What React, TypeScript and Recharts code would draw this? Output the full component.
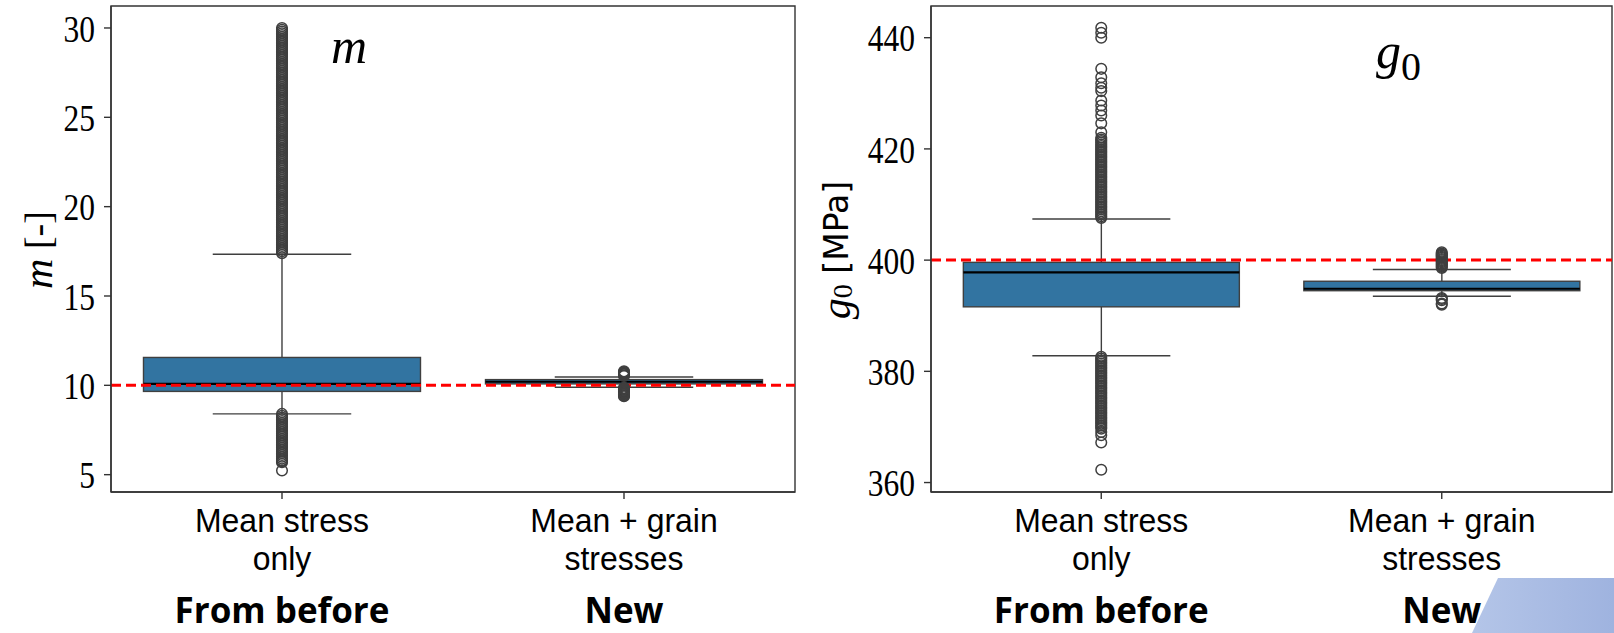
import React from 'react'
import { ComposedChart, Bar, Scatter, XAxis, YAxis, ReferenceLine, ReferenceArea } from 'recharts'

const CATEGORIES = ['Mean stress only', 'Mean + grain stresses']
const TICK_LINES: Record<string, string[]> = {
  'Mean stress only':      ['Mean stress', 'only'],
  'Mean + grain stresses': ['Mean + grain', 'stresses'],
}
const GROUP_LABELS = ['From before', 'New']

// m [-]
const M_TICKS  = [5, 10, 15, 20, 25, 30]
const M_DOMAIN = [4.03, 31.23]
const M_REF    = 10
const M_LOW    = [8.4, 9.89]
const M_Q1     = [9.66, 10.08]
const M_MEDIAN = [10.08, 10.2]
const M_Q3     = [11.56, 10.32]
const M_HIGH   = [17.34, 10.47]
const M_OUT_ONLY = [
  17.4, 17.5, 17.6, 17.7, 17.8, 17.9, 18.0, 18.1, 18.2, 18.3,
  18.4, 18.5, 18.6, 18.7, 18.8, 18.9, 19.0, 19.1, 19.2, 19.3,
  19.4, 19.5, 19.6, 19.7, 19.8, 19.9, 20.0, 20.1, 20.2, 20.3,
  20.4, 20.5, 20.6, 20.7, 20.8, 20.9, 21.0, 21.1, 21.2, 21.3,
  21.4, 21.5, 21.6, 21.7, 21.8, 21.9, 22.0, 22.1, 22.2, 22.3,
  22.4, 22.5, 22.6, 22.7, 22.8, 22.9, 23.0, 23.1, 23.2, 23.3,
  23.4, 23.5, 23.6, 23.7, 23.8, 23.9, 24.0, 24.1, 24.2, 24.3,
  24.4, 24.5, 24.6, 24.7, 24.8, 24.9, 25.0, 25.1, 25.2, 25.3,
  25.4, 25.5, 25.6, 25.7, 25.8, 25.9, 26.0, 26.1, 26.2, 26.3,
  26.4, 26.5, 26.6, 26.7, 26.8, 26.9, 27.0, 27.1, 27.2, 27.3,
  27.4, 27.5, 27.6, 27.7, 27.8, 27.9, 28.0, 28.1, 28.2, 28.3,
  28.4, 28.5, 28.6, 28.7, 28.8, 28.9, 29.0, 29.1, 29.2, 29.3,
  29.4, 29.5, 29.6, 29.7, 29.8, 29.9, 30.0,
  8.4, 8.3, 8.2, 8.1, 8.0, 7.9, 7.8, 7.7, 7.6, 7.5,
  7.4, 7.3, 7.2, 7.1, 7.0, 6.9, 6.8, 6.7, 6.6, 6.5,
  6.4, 6.3, 6.2, 6.1, 6.0, 5.9, 5.8, 5.75, 5.7, 5.23,
]
const M_OUT_GRAIN = [
  10.52, 10.56, 10.62, 10.66, 10.7, 10.74, 10.78,
  9.86, 9.82, 9.78, 9.74, 9.7, 9.66, 9.62, 9.58, 9.54, 9.5, 9.46, 9.42, 9.39,
]

// g0 [MPa]
const G_TICKS  = [360, 380, 400, 420, 440]
const G_DOMAIN = [358.3, 445.7]
const G_REF    = 400
const G_LOW    = [382.8, 393.5]
const G_Q1     = [391.6, 394.5]
const G_MEDIAN = [397.8, 394.85]
const G_Q3     = [399.6, 396.2]
const G_HIGH   = [407.4, 398.3]
const G_OUT_ONLY = [
  407.6, 407.9, 408.2, 408.5, 408.8, 409.1, 409.4, 409.7, 410.0, 410.3,
  410.6, 410.9, 411.2, 411.5, 411.8, 412.1, 412.4, 412.7, 413.0, 413.3,
  413.6, 413.9, 414.2, 414.5, 414.8, 415.1, 415.4, 415.7, 416.0, 416.3,
  416.6, 416.9, 417.2, 417.5, 417.8, 418.1, 418.4, 418.7, 419.0, 419.3,
  419.6, 419.9, 420.2, 420.5, 420.8, 421.1, 421.4, 421.7, 422.0,
  423.0, 424.6, 426.0, 426.9, 427.8, 428.7, 430.4, 431.0, 431.8, 432.9,
  434.4, 440.0, 440.9, 441.8,
  382.6, 382.3, 382.0, 381.7, 381.4, 381.1, 380.8, 380.5, 380.2, 379.9,
  379.6, 379.3, 379.0, 378.7, 378.4, 378.1, 377.8, 377.5, 377.2, 376.9,
  376.6, 376.3, 376.0, 375.7, 375.4, 375.1, 374.8, 374.5, 374.2, 373.9,
  373.6, 373.3, 373.0, 372.7, 372.4, 372.1, 371.8, 371.5, 371.2, 370.9,
  370.6, 370.3, 370.0, 369.7, 369.1, 368.5, 367.2, 362.3,
]
const G_OUT_GRAIN = [
  398.6, 398.8, 399.0, 399.2, 399.4, 399.6, 399.8, 400.0, 400.2, 400.4,
  400.6, 400.8, 401.0, 401.2, 401.4,
  393.2, 393.0, 392.8, 392.2, 392.0,
]

const BOX_FILL = '#3274a1'
const EDGE = '#3f3f3f'
const AXIS = '#333333'
const SERIF = '"Liberation Serif", "DejaVu Serif", serif'
const SANS = '"Liberation Sans", Arial, sans-serif'

function boxRows(low: number[], q1: number[], med: number[], q3: number[], high: number[]) {
  return CATEGORIES.map((cat, i) => ({
    cat, whisker: [low[i], high[i]], q1: q1[i], median: med[i], q3: q3[i],
  }))
}

function outlierRows(lists: number[][]) {
  return lists.flatMap((vals, i) => vals.map((v) => ({ cat: CATEGORIES[i], v })))
}

function BoxShape(props: any) {
  const { x, y, width, height, payload } = props
  if (!payload) return null
  const top = Math.min(y, y + height)
  const h = Math.abs(height)
  const [lo, hi] = payload.whisker
  const py = (v: number) => top + ((hi - v) / (hi - lo)) * h
  const cx = x + width / 2
  const cap = width / 4
  const yq1 = py(payload.q1)
  const yq3 = py(payload.q3)
  const ymed = py(payload.median)
  return (
    <g>
      <line x1={cx} x2={cx} y1={py(hi)} y2={yq3} stroke={EDGE} strokeWidth={1.4} />
      <line x1={cx} x2={cx} y1={yq1} y2={py(lo)} stroke={EDGE} strokeWidth={1.4} />
      <line x1={cx - cap} x2={cx + cap} y1={py(hi)} y2={py(hi)} stroke={EDGE} strokeWidth={1.4} />
      <line x1={cx - cap} x2={cx + cap} y1={py(lo)} y2={py(lo)} stroke={EDGE} strokeWidth={1.4} />
      <rect x={x} y={yq3} width={width} height={yq1 - yq3} fill={BOX_FILL} stroke={EDGE} strokeWidth={1.4} />
      <line x1={x} x2={x + width} y1={ymed} y2={ymed} stroke="#000" strokeWidth={2.2} />
    </g>
  )
}

function Ring(props: any) {
  const { cx, cy } = props
  if (cx == null || cy == null) return null
  return <circle cx={cx} cy={cy} r={5.3} fill="none" stroke={EDGE} strokeWidth={1.5} />
}

function ValueTick(props: any) {
  const { x, y, payload } = props
  return (
    <text x={x} y={y} dy="0.36em" textAnchor="end" fontFamily={SERIF} fontSize={35} fill="#000"
      transform={`translate(${x},${y}) scale(0.9,1.08) translate(${-x},${-y})`}>
      {payload.value}
    </text>
  )
}

function CatTick(props: any) {
  const { x, y, payload } = props
  const lines = TICK_LINES[payload.value] ?? [payload.value]
  const group = GROUP_LABELS[CATEGORIES.indexOf(payload.value)]
  return (
    <g>
      <text x={x} y={y + 33} textAnchor="middle" fontFamily={SANS} fontSize={34} fill="#000"
        transform={`translate(${x},0) scale(0.94,1) translate(${-x},0)`}>{lines[0]}</text>
      <text x={x} y={y + 71} textAnchor="middle" fontFamily={SANS} fontSize={34} fill="#000"
        transform={`translate(${x},0) scale(0.94,1) translate(${-x},0)`}>{lines[1]}</text>
      <text x={x} y={y + 124} textAnchor="middle" fontFamily='"Open Sans", sans-serif' fontWeight={700} fontSize={35} fill="#000">{group}</text>
    </g>
  )
}

interface PanelProps {
  left: number
  width: number
  yWidth: number
  rightMargin: number
  boxes: any[]
  outliers: any[]
  domain: number[]
  ticks: number[]
  refY: number
}

function Panel({ left, width, yWidth, rightMargin, boxes, outliers, domain, ticks, refY }: PanelProps) {
  return (
    <div style={{ position: 'absolute', left, top: 0 }}>
      <ComposedChart
        width={width}
        height={633}
        data={boxes}
        margin={{ top: 6, right: rightMargin, bottom: 0, left: 0 }}
        barCategoryGap="9.5%"
      >
        <XAxis
          dataKey="cat"
          type="category"
          allowDuplicatedCategory={false}
          height={141}
          interval={0}
          tickSize={7}
          tickMargin={0}
          axisLine={{ stroke: AXIS, strokeWidth: 1.4 }}
          tickLine={{ stroke: AXIS, strokeWidth: 1.4 }}
          tick={CatTick}
        />
        <YAxis
          type="number"
          domain={domain}
          ticks={ticks}
          allowDataOverflow
          width={yWidth}
          tickSize={7}
          tickMargin={9}
          axisLine={{ stroke: AXIS, strokeWidth: 1.4 }}
          tickLine={{ stroke: AXIS, strokeWidth: 1.4 }}
          tick={ValueTick}
        />
        <ReferenceArea x1={CATEGORIES[0]} x2={CATEGORIES[1]} y1={domain[0]} y2={domain[1]}
          fill="none" fillOpacity={0} stroke={AXIS} strokeWidth={1.4} ifOverflow="visible" />
        <Bar dataKey="whisker" shape={BoxShape} isAnimationActive={false} />
        <Scatter data={outliers} dataKey="v" shape={Ring} isAnimationActive={false} />
        <ReferenceLine y={refY} stroke="#ff0000" strokeWidth={3} strokeDasharray="10 5" />
      </ComposedChart>
    </div>
  )
}

export default function App() {
  const mBoxes = boxRows(M_LOW, M_Q1, M_MEDIAN, M_Q3, M_HIGH)
  const gBoxes = boxRows(G_LOW, G_Q1, G_MEDIAN, G_Q3, G_HIGH)
  const mOut = outlierRows([M_OUT_ONLY, M_OUT_GRAIN])
  const gOut = outlierRows([G_OUT_ONLY, G_OUT_GRAIN])

  return (
    <div style={{ position: 'absolute', left: 0, top: 0, width: 1614, height: 633, background: '#fff', overflow: 'hidden' }}>
      <Panel left={0} width={800} yWidth={111} rightMargin={5} boxes={mBoxes} outliers={mOut}
        domain={M_DOMAIN} ticks={M_TICKS} refY={M_REF} />
      <Panel left={800} width={814} yWidth={131} rightMargin={2} boxes={gBoxes} outliers={gOut}
        domain={G_DOMAIN} ticks={G_TICKS} refY={G_REF} />

      <svg width={1614} height={633} style={{ position: 'absolute', left: 0, top: 0, pointerEvents: 'none' }}>
        <defs>
          <linearGradient id="deco" x1="0" x2="1" y1="0" y2="0">
            <stop offset="0%" stopColor="#b4c5e8" />
            <stop offset="100%" stopColor="#9fb3df" />
          </linearGradient>
        </defs>
        <text transform="translate(38,250) rotate(-90)" textAnchor="middle" dominantBaseline="central"
          fontFamily={SERIF} fontSize={38} fill="#000">
          <tspan fontStyle="italic" fontSize={42}>m</tspan> [-]
        </text>
        <text transform="translate(836,250) rotate(-90)" textAnchor="middle" dominantBaseline="central"
          fontFamily={SERIF} fontSize={42} fill="#000">
          <tspan fontStyle="italic">g</tspan>
          <tspan fontSize={28} dy={6}>0</tspan>
          <tspan dy={-6} fontFamily='"DejaVu Sans", sans-serif' fontSize={33}> [MPa]</tspan>
        </text>
        <text x={331} y={63} fontFamily={SERIF} fontStyle="italic" fontSize={50} fill="#000">m</text>
        <text x={1376} y={68} fontFamily={SERIF} fontSize={50} fill="#000">
          <tspan fontStyle="italic">g</tspan>
          <tspan fontSize={40} dy={12}>0</tspan>
        </text>
        <polygon points="1498,578 1614,578 1614,633 1472,633" fill="url(#deco)" />
      </svg>
    </div>
  )
}
